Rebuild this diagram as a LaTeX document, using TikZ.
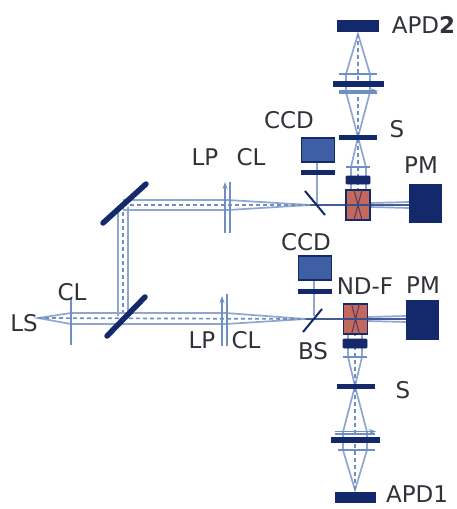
\documentclass[tikz,border=0pt]{standalone}
\usepackage{fontspec}
\setmainfont{DejaVu Sans}
\definecolor{navy}{HTML}{14296B}
\definecolor{beam}{HTML}{8FA6D0}
\definecolor{beamd}{HTML}{6F8EC4}
\definecolor{ccdc}{HTML}{3F5FA5}
\definecolor{redb}{HTML}{C5685C}
\definecolor{txt}{HTML}{2F3238}
\usetikzlibrary{arrows.meta}
\tikzset{
 lbl/.style={font=\fontsize{23}{23}\selectfont,text=txt,inner sep=0pt},
 solid box/.style={draw=navy,fill=navy,line width=.8pt,inner sep=0pt,minimum width=#1},
 mirror/.style={draw=navy,line width=5.5pt,line cap=round},
 split/.style={draw=navy,line width=2pt},
 ray/.style={draw=beam,line width=1.7pt},
 rayc/.style={draw=beamd,line width=1.7pt,dash pattern=on 4pt off 3pt},
 optic/.style={draw=beamd,line width=1.5pt},
 tip/.style={-{Stealth[length=7pt,width=5pt]}},
}
\begin{document}
\begin{tikzpicture}[x=1pt,y=-1pt]
\useasboundingbox (0,0) rectangle (456,509);
% coordinates
\coordinate (ls) at (38,318);
\coordinate (m2) at (123,318);
\coordinate (m1) at (123,205);
\coordinate (uf) at (310,205);
\coordinate (lf) at (306,319);
% beams: vertical
\draw[ray] (118,207) -- (118,316) (128,207) -- (128,316);
\draw[rayc] (m1) -- (m2);
% upper horizontal
\draw[ray] (123,200) -- (228,200) -- (uf) -- (228,210) -- (123,210);
\draw[rayc] (m1) -- (uf);
\draw[draw=navy!60!beam,line width=2.2pt] (uf) -- (409,205);
\draw[ray] (370,203) -- (409,202) (370,207) -- (409,208);
% lower horizontal
\draw[ray] (ls) -- (71,313) -- (226,313) -- (lf) -- (226,324) -- (71,324) -- cycle;
\draw[rayc] (ls) -- (lf);
\draw[draw=navy!60!beam,line width=2.2pt] (lf) -- (406,319);
\draw[ray] (368,317) -- (406,316) (368,321) -- (406,322);
% CCD arms
\coordinate (cu) at (317,205); \coordinate (cl) at (314,316);
\draw[ray,line width=2.2pt] (317,162) -- (cu);
\draw[ray,line width=2.2pt] (314,280) -- (cl);
% upper detection arm
\coordinate (apd2f) at (358,34); \coordinate (su) at (358,137); \coordinate (ru) at (358,205);
\draw[ray] (apd2f) -- (346,74) -- (346,92) -- (su) -- (370,92) -- (370,74) -- cycle;
\draw[ray] (su) -- (351,167) -- (351,190) (su) -- (366,167) -- (366,190);
\draw[rayc] (apd2f) -- (ru);
% lower detection arm
\coordinate (apd1f) at (355,490); \coordinate (sl) at (355,386); \coordinate (rl) at (355,319);
\draw[ray] (apd1f) -- (343,450) -- (343,432) -- (sl) -- (367,432) -- (367,450) -- cycle;
\draw[ray] (sl) -- (348,357) -- (348,334) (sl) -- (362,357) -- (362,334);
\draw[rayc] (apd1f) -- (rl);
% lenses and polarisers
\draw[optic] (71,298) -- (71,345);
\draw[optic] (230,182) -- (230,233);
\draw[optic,tip] (225,233) -- (225,182);
\draw[optic] (227,294) -- (227,346);
\draw[optic,tip] (222,346) -- (222,296);
\draw[optic] (339,74) -- (377,74) (346,167) -- (370,167);
\draw[optic,tip] (339,91) -- (378,91);
\draw[optic] (339,93) -- (377,93);
\draw[optic] (343,357) -- (367,357) (338,450) -- (375,450);
\draw[optic,tip] (335,431.5) -- (376,431.5);
\draw[optic] (335,434) -- (375,434);
% mirrors
\draw[mirror] (103,223) -- (146,184);
\draw[mirror] (107,336) -- (145,297);
\draw[split] (305,191) -- (325,215);
\draw[split] (303,332) -- (322,309);
% red boxes
\node[draw=navy,fill=redb,line width=1.4pt,minimum width=24pt,minimum height=30pt,inner sep=0pt] (cubeu) at (358,205) {};
\node[draw=navy,fill=redb,line width=1.4pt,minimum width=24pt,minimum height=30pt,inner sep=0pt] (cubel) at (355.5,319) {};
\draw[draw=navy!70!redb,line width=1pt] (354,190) -- (362,220) (362,190) -- (354,220);
\draw[draw=navy!70!redb,line width=1pt] (351.5,304) -- (359.5,334) (359.5,304) -- (351.5,334);
\draw[draw=navy!70!beam,line width=2pt] (346,205) -- (370,205) (343,319) -- (368,319);
% detectors and filters
\node[solid box=41pt,minimum height=11pt] (apd2) at (358,26) {};
\node[solid box=40pt,minimum height=10pt] (apd1) at (355.5,497.5) {};
\node[solid box=32pt,minimum height=38pt] (pmu) at (425.5,203.5) {};
\node[solid box=32pt,minimum height=39pt] (pml) at (422.5,320) {};
\node[draw=navy,fill=ccdc,line width=1.4pt,minimum width=33pt,minimum height=24pt,inner sep=0pt] (ccdu) at (318,150) {};
\node[draw=navy,fill=ccdc,line width=1.4pt,minimum width=33pt,minimum height=24pt,inner sep=0pt] (ccdl) at (315,268) {};
\node[solid box=33pt,minimum height=4pt] (fu) at (318,172.5) {};
\node[solid box=33pt,minimum height=4pt] (fl) at (315,291) {};
\node[solid box=24pt,minimum height=8pt,rounded corners=1pt] (bu) at (358,180) {};
\node[solid box=24pt,minimum height=9pt,rounded corners=1pt] (bl) at (355,343.5) {};
\node[solid box=37pt,minimum height=4pt] (su2) at (358,137) {};
\node[solid box=37pt,minimum height=4pt] (sl2) at (355.5,386.5) {};
\node[solid box=50pt,minimum height=5pt] (au) at (358,84) {};
\node[solid box=48pt,minimum height=5pt] (al) at (355,439.5) {};
% labels
\node[lbl] (t1) at (423.5,25) {APD\textbf{2}};
\node[lbl] (t2) at (417,494) {APD1};
\node[lbl] (t3) at (289,120) {CCD};
\node[lbl] (t4) at (306,242) {CCD};
\node[lbl] (t5) at (397,129) {S};
\node[lbl] (t6) at (403,390) {S};
\node[lbl] (t7) at (421,165) {PM};
\node[lbl] (t8) at (423,285) {PM};
\node[lbl] (t9) at (365,286) {ND-F};
\node[lbl] (t10) at (313,351) {BS};
\node[lbl] (t11) at (205,157) {LP};
\node[lbl] (t12) at (251,157) {CL};
\node[lbl] (t13) at (202,340) {LP};
\node[lbl] (t14) at (246,340) {CL};
\node[lbl] (t15) at (72,292) {CL};
\node[lbl] (t16) at (24,323) {LS};
\end{tikzpicture}
\end{document}
